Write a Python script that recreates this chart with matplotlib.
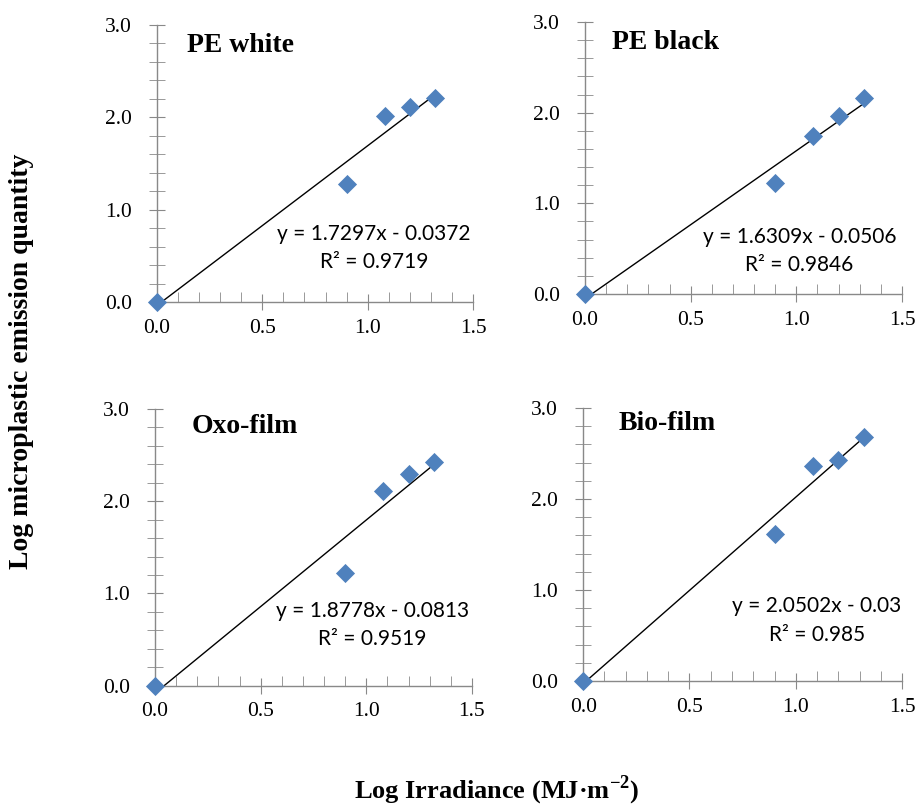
import numpy as np
import matplotlib
matplotlib.use('Agg')
import matplotlib.pyplot as plt
from matplotlib.ticker import MultipleLocator

# 数据
log_irr = [0.0, 0.90, 1.08, 1.20, 1.32]
pe_white = [0.0, 1.28, 2.01, 2.11, 2.21]
pe_black = [0.0, 1.22, 1.74, 1.96, 2.16]
oxo_film = [0.0, 1.22, 2.11, 2.29, 2.42]
bio_film = [0.0, 1.62, 2.36, 2.43, 2.68]

titles = ['PE white', 'PE black', 'Oxo-film', 'Bio-film']
slopes = [1.7297, 1.6309, 1.8778, 2.0502]
intercepts = [-0.0372, -0.0506, -0.0813, -0.03]
eq_texts = ['y = 1.7297x - 0.0372', 'y = 1.6309x - 0.0506',
            'y = 1.8778x - 0.0813', 'y = 2.0502x - 0.03']
r2_texts = ['R² = 0.9719', 'R² = 0.9846', 'R² = 0.9519', 'R² = 0.985']
series = [pe_white, pe_black, oxo_film, bio_film]

# 布局 (left, bottom, width, height)
boxes = [[0.1716, 0.6253, 0.3454, 0.3437],
         [0.6394, 0.6352, 0.3464, 0.3375],
         [0.1694, 0.1493, 0.3464, 0.3433],
         [0.6373, 0.1551, 0.3486, 0.3387]]
title_pos = [(0.14, 2.78), (0.128, 2.77), (0.175, 2.81), (0.165, 2.83)]
eq_pos = [(1.03, 0.74, 0.43), (1.015, 0.63, 0.32), (1.03, 0.81, 0.51), (1.10, 0.82, 0.50)]

plt.rcParams['mathtext.fontset'] = 'custom'
plt.rcParams['mathtext.rm'] = 'Liberation Serif:bold'
plt.rcParams['mathtext.bf'] = 'Liberation Serif:bold'

fig = plt.figure(figsize=(9.15, 8.06), dpi=100)
spine_c = '#898989'
serif = 'Liberation Serif'

for i in range(4):
    ax = fig.add_axes(boxes[i])
    x = np.array(log_irr)
    ax.scatter(x, series[i], marker='D', s=95, color='#4F81BD', zorder=3, clip_on=False,
               linewidths=0)
    xl = np.array([0, x.max()])
    ax.plot(xl, slopes[i] * xl + intercepts[i], color='black', lw=1.0, zorder=2)
    ax.set_xlim(0, 1.5)
    ax.set_ylim(0, 3.0)
    ax.xaxis.set_major_locator(MultipleLocator(0.5))
    ax.xaxis.set_minor_locator(MultipleLocator(0.1))
    ax.yaxis.set_major_locator(MultipleLocator(1.0))
    ax.yaxis.set_minor_locator(MultipleLocator(0.2))
    ax.set_xticklabels(['%.1f' % v for v in ax.get_xticks()])
    ax.set_yticklabels(['%.1f' % v for v in ax.get_yticks()])
    for s in ['top', 'right']:
        ax.spines[s].set_visible(False)
    for s in ['left', 'bottom']:
        ax.spines[s].set_color(spine_c)
        ax.spines[s].set_linewidth(1.0)
    ax.tick_params(axis='x', which='major', direction='inout', length=12, color=spine_c, pad=6)
    ax.tick_params(axis='x', which='minor', direction='in', length=7, color=spine_c)
    ax.tick_params(axis='y', which='both', direction='inout', length=12, color=spine_c, pad=12)
    for lab in ax.get_xticklabels() + ax.get_yticklabels():
        lab.set_fontfamily(serif)
        lab.set_fontsize(15.5)
    tx, ty = title_pos[i]
    ax.text(tx, ty, titles[i], fontfamily=serif, fontweight='bold', fontsize=20,
            ha='left', va='center')
    ex, ey, ry = eq_pos[i]
    ax.text(ex, ey, eq_texts[i], fontfamily='Lato', fontsize=15, ha='center', va='center')
    ax.text(ex, ry, r2_texts[i], fontfamily='Lato', fontsize=15, ha='center', va='center')
    ax.patch.set_alpha(0)

fig.text(0.543, 0.02, 'Log Irradiance (MJ·m$^{\\mathrm{-2}}$)', fontfamily=serif,
         fontweight='bold', fontsize=19, ha='center', va='center')
fig.text(0.024, 0.552, 'Log microplastic emission quantity', fontfamily=serif,
         fontweight='bold', fontsize=20, ha='center', va='center', rotation=90)

fig.savefig('out.png', dpi=100)
